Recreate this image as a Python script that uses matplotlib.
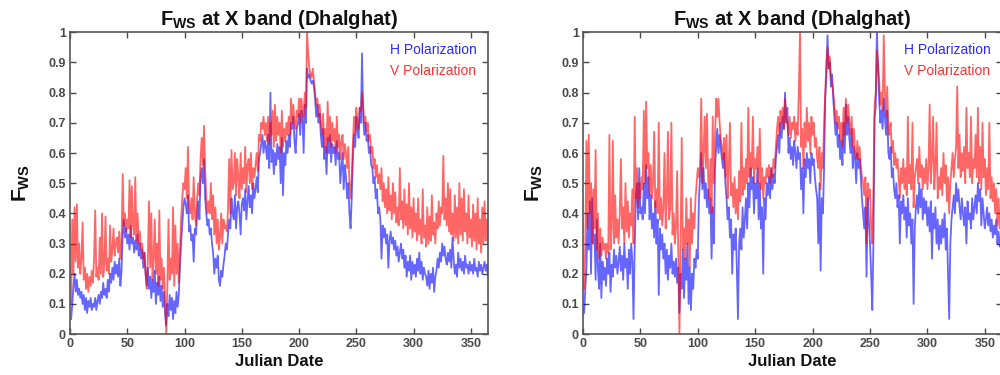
import matplotlib
matplotlib.use('Agg')
import matplotlib.pyplot as plt

plt.rcParams['font.family'] = ['Liberation Sans', 'DejaVu Sans']
plt.rcParams['mathtext.fontset'] = 'custom'
plt.rcParams['mathtext.rm'] = 'Liberation Sans'
plt.rcParams['mathtext.bf'] = 'Liberation Sans:bold'

days = list(range(1, 366))

# left panel, H polarization (10 days per row)
left_h = [
    0.05, 0.10, 0.16, 0.20, 0.14, 0.18, 0.13, 0.15, 0.12, 0.14,
    0.10, 0.13, 0.08, 0.12, 0.07, 0.11, 0.09, 0.12, 0.08, 0.10,
    0.09, 0.12, 0.08, 0.11, 0.13, 0.10, 0.14, 0.12, 0.17, 0.13,
    0.15, 0.12, 0.18, 0.14, 0.20, 0.17, 0.22, 0.18, 0.24, 0.20,
    0.23, 0.19, 0.25, 0.16, 0.21, 0.33, 0.38, 0.32, 0.35, 0.30,
    0.33, 0.28, 0.36, 0.30, 0.32, 0.27, 0.31, 0.28, 0.33, 0.26,
    0.30, 0.25, 0.28, 0.22, 0.27, 0.20, 0.16, 0.22, 0.15, 0.19,
    0.12, 0.18, 0.14, 0.21, 0.10, 0.17, 0.13, 0.19, 0.11, 0.16,
    0.09, 0.14, 0.07, 0.03, 0.10, 0.06, 0.13, 0.08, 0.12, 0.05,
    0.11, 0.07, 0.14, 0.09, 0.13, 0.22, 0.30, 0.36, 0.42, 0.45,
    0.43, 0.40, 0.46, 0.34, 0.36, 0.31, 0.33, 0.24, 0.35, 0.33,
    0.40, 0.44, 0.38, 0.52, 0.55, 0.50, 0.58, 0.45, 0.40, 0.36,
    0.38, 0.33, 0.35, 0.30, 0.27, 0.20, 0.25, 0.22, 0.26, 0.18,
    0.16, 0.21, 0.19, 0.23, 0.26, 0.30, 0.28, 0.33, 0.38, 0.35,
    0.45, 0.40, 0.38, 0.46, 0.35, 0.42, 0.44, 0.40, 0.33, 0.43,
    0.45, 0.41, 0.48, 0.38, 0.44, 0.49, 0.42, 0.46, 0.40, 0.50,
    0.45, 0.48, 0.52, 0.47, 0.58, 0.60, 0.63, 0.66, 0.60, 0.64,
    0.62, 0.58, 0.66, 0.55, 0.80, 0.57, 0.61, 0.53, 0.60, 0.56,
    0.63, 0.58, 0.62, 0.50, 0.65, 0.46, 0.60, 0.56, 0.64, 0.60,
    0.66, 0.62, 0.70, 0.68, 0.72, 0.64, 0.60, 0.68, 0.70, 0.73,
    0.66, 0.74, 0.72, 0.60, 0.76, 0.70, 0.88, 0.85, 0.86, 0.84,
    0.83, 0.84, 0.82, 0.78, 0.72, 0.76, 0.70, 0.73, 0.66, 0.62,
    0.68, 0.58, 0.62, 0.53, 0.65, 0.60, 0.66, 0.57, 0.63, 0.60,
    0.62, 0.56, 0.64, 0.58, 0.60, 0.50, 0.55, 0.60, 0.48, 0.56,
    0.52, 0.45, 0.50, 0.40, 0.35, 0.45, 0.58, 0.66, 0.62, 0.72,
    0.68, 0.65, 0.75, 0.70, 0.93, 0.72, 0.66, 0.70, 0.64, 0.66,
    0.60, 0.62, 0.56, 0.55, 0.50, 0.52, 0.45, 0.48, 0.40, 0.42,
    0.38, 0.25, 0.36, 0.32, 0.35, 0.30, 0.33, 0.22, 0.31, 0.34,
    0.30, 0.32, 0.28, 0.31, 0.26, 0.29, 0.24, 0.27, 0.30, 0.25,
    0.28, 0.22, 0.26, 0.19, 0.24, 0.21, 0.26, 0.18, 0.24, 0.20,
    0.23, 0.19, 0.25, 0.21, 0.27, 0.20, 0.24, 0.18, 0.22, 0.20,
    0.19, 0.16, 0.21, 0.15, 0.20, 0.17, 0.22, 0.14, 0.19, 0.21,
    0.25, 0.22, 0.27, 0.24, 0.30, 0.26, 0.29, 0.25, 0.23, 0.27,
    0.24, 0.28, 0.22, 0.32, 0.25, 0.20, 0.23, 0.19, 0.27, 0.22,
    0.25, 0.21, 0.24, 0.20, 0.26, 0.22, 0.23, 0.20, 0.24, 0.21,
    0.23, 0.20, 0.25, 0.21, 0.22, 0.19, 0.24, 0.21, 0.23, 0.20,
    0.22, 0.24, 0.21, 0.23, 0.19,
]

# left panel, V polarization
left_v = [
    0.10, 0.38, 0.20, 0.42, 0.24, 0.43, 0.22, 0.30, 0.20, 0.25,
    0.37, 0.18, 0.22, 0.15, 0.20, 0.14, 0.19, 0.16, 0.21, 0.17,
    0.25, 0.41, 0.19, 0.22, 0.18, 0.32, 0.20, 0.40, 0.19, 0.23,
    0.39, 0.21, 0.25, 0.20, 0.36, 0.24, 0.28, 0.35, 0.26, 0.30,
    0.32, 0.27, 0.34, 0.25, 0.30, 0.53, 0.36, 0.40, 0.34, 0.38,
    0.35, 0.51, 0.32, 0.49, 0.36, 0.33, 0.52, 0.31, 0.40, 0.30,
    0.34, 0.28, 0.30, 0.25, 0.27, 0.20, 0.15, 0.25, 0.44, 0.22,
    0.40, 0.18, 0.25, 0.38, 0.20, 0.30, 0.16, 0.41, 0.18, 0.25,
    0.15, 0.22, 0.12, 0.00, 0.16, 0.38, 0.18, 0.25, 0.20, 0.42,
    0.16, 0.36, 0.20, 0.30, 0.17, 0.28, 0.38, 0.45, 0.50, 0.48,
    0.55, 0.45, 0.62, 0.42, 0.40, 0.45, 0.38, 0.52, 0.40, 0.36,
    0.45, 0.50, 0.46, 0.58, 0.65, 0.56, 0.69, 0.55, 0.45, 0.40,
    0.44, 0.40, 0.50, 0.38, 0.46, 0.33, 0.42, 0.30, 0.38, 0.28,
    0.32, 0.40, 0.30, 0.38, 0.35, 0.36, 0.34, 0.42, 0.58, 0.40,
    0.61, 0.48, 0.50, 0.60, 0.46, 0.58, 0.52, 0.45, 0.60, 0.48,
    0.55, 0.50, 0.62, 0.47, 0.56, 0.58, 0.50, 0.60, 0.48, 0.55,
    0.52, 0.56, 0.60, 0.54, 0.66, 0.64, 0.70, 0.68, 0.72, 0.66,
    0.70, 0.64, 0.72, 0.63, 0.70, 0.66, 0.74, 0.62, 0.76, 0.64,
    0.72, 0.66, 0.70, 0.60, 0.74, 0.62, 0.68, 0.64, 0.70, 0.66,
    0.72, 0.66, 0.78, 0.70, 0.76, 0.70, 0.68, 0.74, 0.72, 0.78,
    0.70, 0.78, 0.74, 0.72, 0.80, 0.75, 1.00, 0.93, 0.88, 0.86,
    0.85, 0.88, 0.84, 0.80, 0.76, 0.78, 0.72, 0.76, 0.70, 0.66,
    0.73, 0.62, 0.68, 0.60, 0.77, 0.64, 0.72, 0.62, 0.70, 0.64,
    0.68, 0.60, 0.72, 0.62, 0.66, 0.58, 0.64, 0.66, 0.58, 0.63,
    0.60, 0.55, 0.62, 0.50, 0.45, 0.52, 0.63, 0.72, 0.66, 0.75,
    0.70, 0.68, 0.75, 0.74, 0.80, 0.76, 0.70, 0.72, 0.67, 0.70,
    0.64, 0.66, 0.60, 0.62, 0.55, 0.58, 0.52, 0.56, 0.50, 0.53,
    0.48, 0.55, 0.44, 0.50, 0.42, 0.48, 0.40, 0.52, 0.41, 0.46,
    0.38, 0.50, 0.40, 0.47, 0.37, 0.42, 0.36, 0.55, 0.38, 0.44,
    0.35, 0.48, 0.36, 0.43, 0.33, 0.50, 0.35, 0.42, 0.32, 0.45,
    0.34, 0.40, 0.31, 0.45, 0.33, 0.38, 0.30, 0.48, 0.32, 0.36,
    0.29, 0.42, 0.30, 0.39, 0.31, 0.46, 0.33, 0.37, 0.30, 0.40,
    0.35, 0.44, 0.36, 0.42, 0.40, 0.59, 0.38, 0.45, 0.36, 0.50,
    0.34, 0.48, 0.33, 0.40, 0.31, 0.46, 0.32, 0.42, 0.30, 0.50,
    0.33, 0.45, 0.31, 0.48, 0.34, 0.40, 0.30, 0.46, 0.32, 0.38,
    0.29, 0.43, 0.31, 0.40, 0.28, 0.45, 0.30, 0.38, 0.27, 0.42,
    0.30, 0.44, 0.31, 0.38, 0.30,
]

# right panel, H polarization
right_h = [
    0.07, 0.15, 0.22, 0.40, 0.28, 0.44, 0.20, 0.45, 0.30, 0.33,
    0.18, 0.38, 0.22, 0.15, 0.30, 0.12, 0.24, 0.18, 0.22, 0.16,
    0.25, 0.20, 0.27, 0.14, 0.23, 0.19, 0.28, 0.22, 0.26, 0.20,
    0.24, 0.29, 0.21, 0.26, 0.18, 0.30, 0.22, 0.25, 0.15, 0.28,
    0.20, 0.30, 0.24, 0.05, 0.28, 0.45, 0.50, 0.38, 0.55, 0.40,
    0.42, 0.38, 0.50, 0.40, 0.56, 0.45, 0.52, 0.38, 0.46, 0.35,
    0.40, 0.32, 0.44, 0.30, 0.38, 0.13, 0.35, 0.28, 0.33, 0.25,
    0.30, 0.20, 0.28, 0.18, 0.26, 0.22, 0.30, 0.20, 0.24, 0.19,
    0.25, 0.17, 0.22, 0.07, 0.20, 0.15, 0.28, 0.12, 0.25, 0.18,
    0.30, 0.10, 0.22, 0.08, 0.20, 0.15, 0.25, 0.22, 0.28, 0.25,
    0.45, 0.52, 0.60, 0.48, 0.55, 0.45, 0.50, 0.42, 0.48, 0.40,
    0.45, 0.25, 0.42, 0.30, 0.55, 0.62, 0.68, 0.60, 0.66, 0.62,
    0.58, 0.55, 0.60, 0.50, 0.45, 0.38, 0.42, 0.32, 0.38, 0.20,
    0.33, 0.28, 0.35, 0.22, 0.05, 0.30, 0.35, 0.28, 0.42, 0.32,
    0.38, 0.45, 0.35, 0.50, 0.42, 0.55, 0.48, 0.52, 0.40, 0.50,
    0.45, 0.55, 0.38, 0.50, 0.35, 0.42, 0.20, 0.45, 0.38, 0.50,
    0.46, 0.52, 0.45, 0.55, 0.48, 0.53, 0.50, 0.58, 0.62, 0.66,
    0.60, 0.70, 0.65, 0.72, 0.68, 0.80, 0.70, 0.75, 0.60, 0.65,
    0.58, 0.62, 0.56, 0.64, 0.60, 0.55, 0.62, 0.58, 0.60, 0.48,
    0.55, 0.40, 0.58, 0.52, 0.60, 0.55, 0.58, 0.50, 0.60, 0.56,
    0.58, 0.52, 0.48, 0.45, 0.30, 0.50, 0.21, 0.45, 0.40, 0.55,
    0.78, 0.85, 0.99, 0.88, 0.90, 0.82, 0.86, 0.78, 0.72, 0.66,
    0.70, 0.62, 0.66, 0.58, 0.64, 0.56, 0.70, 0.60, 0.76, 0.66,
    0.72, 0.65, 0.60, 0.68, 0.55, 0.62, 0.58, 0.50, 0.60, 0.55,
    0.58, 0.52, 0.45, 0.40, 0.35, 0.42, 0.19, 0.45, 0.38, 0.30,
    0.20, 0.08, 0.30, 0.72, 0.75, 1.00, 0.88, 0.78, 0.70, 0.74,
    0.68, 0.78, 0.72, 0.66, 0.74, 0.60, 0.58, 0.62, 0.52, 0.55,
    0.48, 0.45, 0.50, 0.42, 0.46, 0.30, 0.44, 0.40, 0.46, 0.38,
    0.42, 0.32, 0.45, 0.36, 0.40, 0.30, 0.38, 0.10, 0.35, 0.42,
    0.46, 0.40, 0.50, 0.42, 0.48, 0.38, 0.45, 0.40, 0.44, 0.36,
    0.42, 0.34, 0.44, 0.25, 0.40, 0.35, 0.42, 0.30, 0.38, 0.28,
    0.36, 0.30, 0.38, 0.32, 0.40, 0.28, 0.35, 0.20, 0.05, 0.30,
    0.38, 0.42, 0.46, 0.40, 0.50, 0.44, 0.48, 0.42, 0.38, 0.45,
    0.40, 0.36, 0.42, 0.30, 0.44, 0.38, 0.40, 0.35, 0.45, 0.38,
    0.42, 0.46, 0.40, 0.50, 0.44, 0.48, 0.36, 0.45, 0.40, 0.35,
    0.38, 0.42, 0.36, 0.40, 0.34, 0.38, 0.32, 0.36, 0.33, 0.38,
    0.30, 0.34, 0.29, 0.32, 0.28,
]

# right panel, V polarization
right_v = [
    0.15, 0.30, 0.64, 0.35, 0.66, 0.40, 0.50, 0.30, 0.48, 0.35,
    0.61, 0.28, 0.40, 0.25, 0.35, 0.26, 0.32, 0.28, 0.30, 0.25,
    0.30, 0.27, 0.66, 0.28, 0.35, 0.64, 0.30, 0.46, 0.32, 0.38,
    0.30, 0.40, 0.58, 0.35, 0.42, 0.30, 0.50, 0.34, 0.44, 0.32,
    0.40, 0.36, 0.48, 0.30, 0.72, 0.45, 0.55, 0.42, 0.50, 0.45,
    0.52, 0.48, 0.74, 0.50, 0.77, 0.55, 0.60, 0.46, 0.56, 0.45,
    0.50, 0.67, 0.42, 0.48, 0.40, 0.70, 0.38, 0.45, 0.36, 0.42,
    0.60, 0.35, 0.45, 0.67, 0.38, 0.42, 0.70, 0.33, 0.40, 0.30,
    0.35, 0.54, 0.28, 0.00, 0.30, 0.65, 0.28, 0.35, 0.25, 0.45,
    0.30, 0.38, 0.22, 0.45, 0.30, 0.40, 0.35, 0.45, 0.50, 0.55,
    0.52, 0.56, 0.78, 0.50, 0.60, 0.72, 0.55, 0.73, 0.52, 0.45,
    0.58, 0.40, 0.72, 0.50, 0.65, 0.78, 0.72, 0.78, 0.70, 0.65,
    0.62, 0.58, 0.65, 0.52, 0.66, 0.45, 0.55, 0.70, 0.46, 0.50,
    0.42, 0.52, 0.40, 0.48, 0.38, 0.54, 0.44, 0.70, 0.46, 0.55,
    0.48, 0.58, 0.50, 0.75, 0.52, 0.60, 0.55, 0.72, 0.50, 0.58,
    0.55, 0.62, 0.50, 0.68, 0.48, 0.55, 0.45, 0.52, 0.50, 0.55,
    0.52, 0.56, 0.50, 0.55, 0.52, 0.58, 0.55, 0.62, 0.68, 0.72,
    0.66, 0.74, 0.70, 0.75, 0.68, 0.78, 0.72, 0.70, 0.66, 0.72,
    0.65, 0.70, 0.68, 0.72, 0.64, 0.70, 0.66, 0.80, 1.00, 0.62,
    0.68, 0.55, 0.70, 0.62, 0.75, 0.64, 0.70, 0.60, 0.72, 0.66,
    0.70, 0.62, 0.65, 0.58, 0.55, 0.62, 0.48, 0.60, 0.55, 0.70,
    0.80, 0.90, 0.95, 0.88, 0.92, 0.85, 0.83, 0.80, 0.76, 0.70,
    0.74, 0.68, 0.72, 0.64, 0.70, 0.62, 0.75, 0.66, 0.78, 0.70,
    0.76, 0.70, 0.66, 0.72, 0.62, 0.68, 0.60, 0.58, 0.64, 0.58,
    0.62, 0.56, 0.52, 0.50, 0.46, 0.52, 0.30, 0.50, 0.45, 0.48,
    0.35, 0.30, 0.48, 0.76, 0.80, 0.94, 0.90, 0.84, 0.76, 0.80,
    0.74, 0.99, 0.80, 0.72, 0.82, 0.68, 0.66, 0.70, 0.60, 0.64,
    0.56, 0.60, 0.55, 0.58, 0.52, 0.45, 0.55, 0.50, 0.58, 0.48,
    0.55, 0.46, 0.72, 0.50, 0.56, 0.48, 0.70, 0.42, 0.52, 0.55,
    0.58, 0.50, 0.62, 0.52, 0.56, 0.48, 0.55, 0.50, 0.58, 0.48,
    0.55, 0.76, 0.50, 0.58, 0.72, 0.48, 0.55, 0.70, 0.45, 0.52,
    0.48, 0.55, 0.46, 0.60, 0.50, 0.56, 0.44, 0.52, 0.40, 0.50,
    0.55, 0.60, 0.52, 0.58, 0.62, 0.82, 0.55, 0.66, 0.52, 0.60,
    0.54, 0.62, 0.50, 0.75, 0.55, 0.60, 0.52, 0.72, 0.50, 0.58,
    0.55, 0.66, 0.52, 0.75, 0.50, 0.62, 0.48, 0.70, 0.52, 0.58,
    0.46, 0.55, 0.48, 0.70, 0.45, 0.52, 0.44, 0.50, 0.40, 0.48,
    0.36, 0.45, 0.35, 0.40, 0.34,
]

x_ticks = [0, 50, 100, 150, 200, 250, 300, 350]
y_ticks = [0, 0.1, 0.2, 0.3, 0.4, 0.5, 0.6, 0.7, 0.8, 0.9, 1]
y_ticklabels = ['0', '0.1', '0.2', '0.3', '0.4', '0.5', '0.6', '0.7', '0.8', '0.9', '1']
title = r'F$_{\mathbf{WS}}$ at X band (Dhalghat)'

fig = plt.figure(figsize=(10, 3.75), dpi=100)
ax1 = fig.add_axes([0.070, 0.109, 0.418, 0.805])
ax2 = fig.add_axes([0.583, 0.109, 0.419, 0.805])

tick_col = '#4a4a4a'
for ax, h, v in [(ax1, left_h, left_v), (ax2, right_h, right_v)]:
    ax.plot(days, h, color='#0000ff', alpha=0.6, lw=1.3, label='H Polarization')
    ax.plot(days, v, color='#ff0000', alpha=0.6, lw=1.3, label='V Polarization')
    ax.set_xlim(0, 365)
    ax.set_ylim(0, 1)
    ax.set_xticks(x_ticks)
    ax.set_yticks(y_ticks)
    ax.set_yticklabels(y_ticklabels)
    ax.tick_params(direction='in', length=4, width=1, top=True, right=True,
                   colors=tick_col, labelsize=9, pad=3)
    for lab in ax.get_xticklabels() + ax.get_yticklabels():
        lab.set_fontweight('bold')
    for sp in ax.spines.values():
        sp.set_color('#555555')
        sp.set_linewidth(1.2)
    ax.set_title(title, fontsize=14.5, fontweight='bold', color='#111111', pad=5)
    ax.set_xlabel('Julian Date', fontsize=12, fontweight='bold', color='#111111',
                  labelpad=3)
    ax.set_ylabel(r'F$_{\mathbf{WS}}$', fontsize=15, fontweight='bold',
                  color='#111111', labelpad=12)
    leg = ax.legend(loc='upper right', frameon=False, handlelength=0,
                    handletextpad=0, fontsize=10, borderaxespad=0.4,
                    labelspacing=0.45)
    for txt, col in zip(leg.get_texts(), ['#2a2aff', '#ff3030']):
        txt.set_color(col)
    for hnd in leg.legend_handles:
        hnd.set_visible(False)

fig.savefig('out.png', dpi=100)
